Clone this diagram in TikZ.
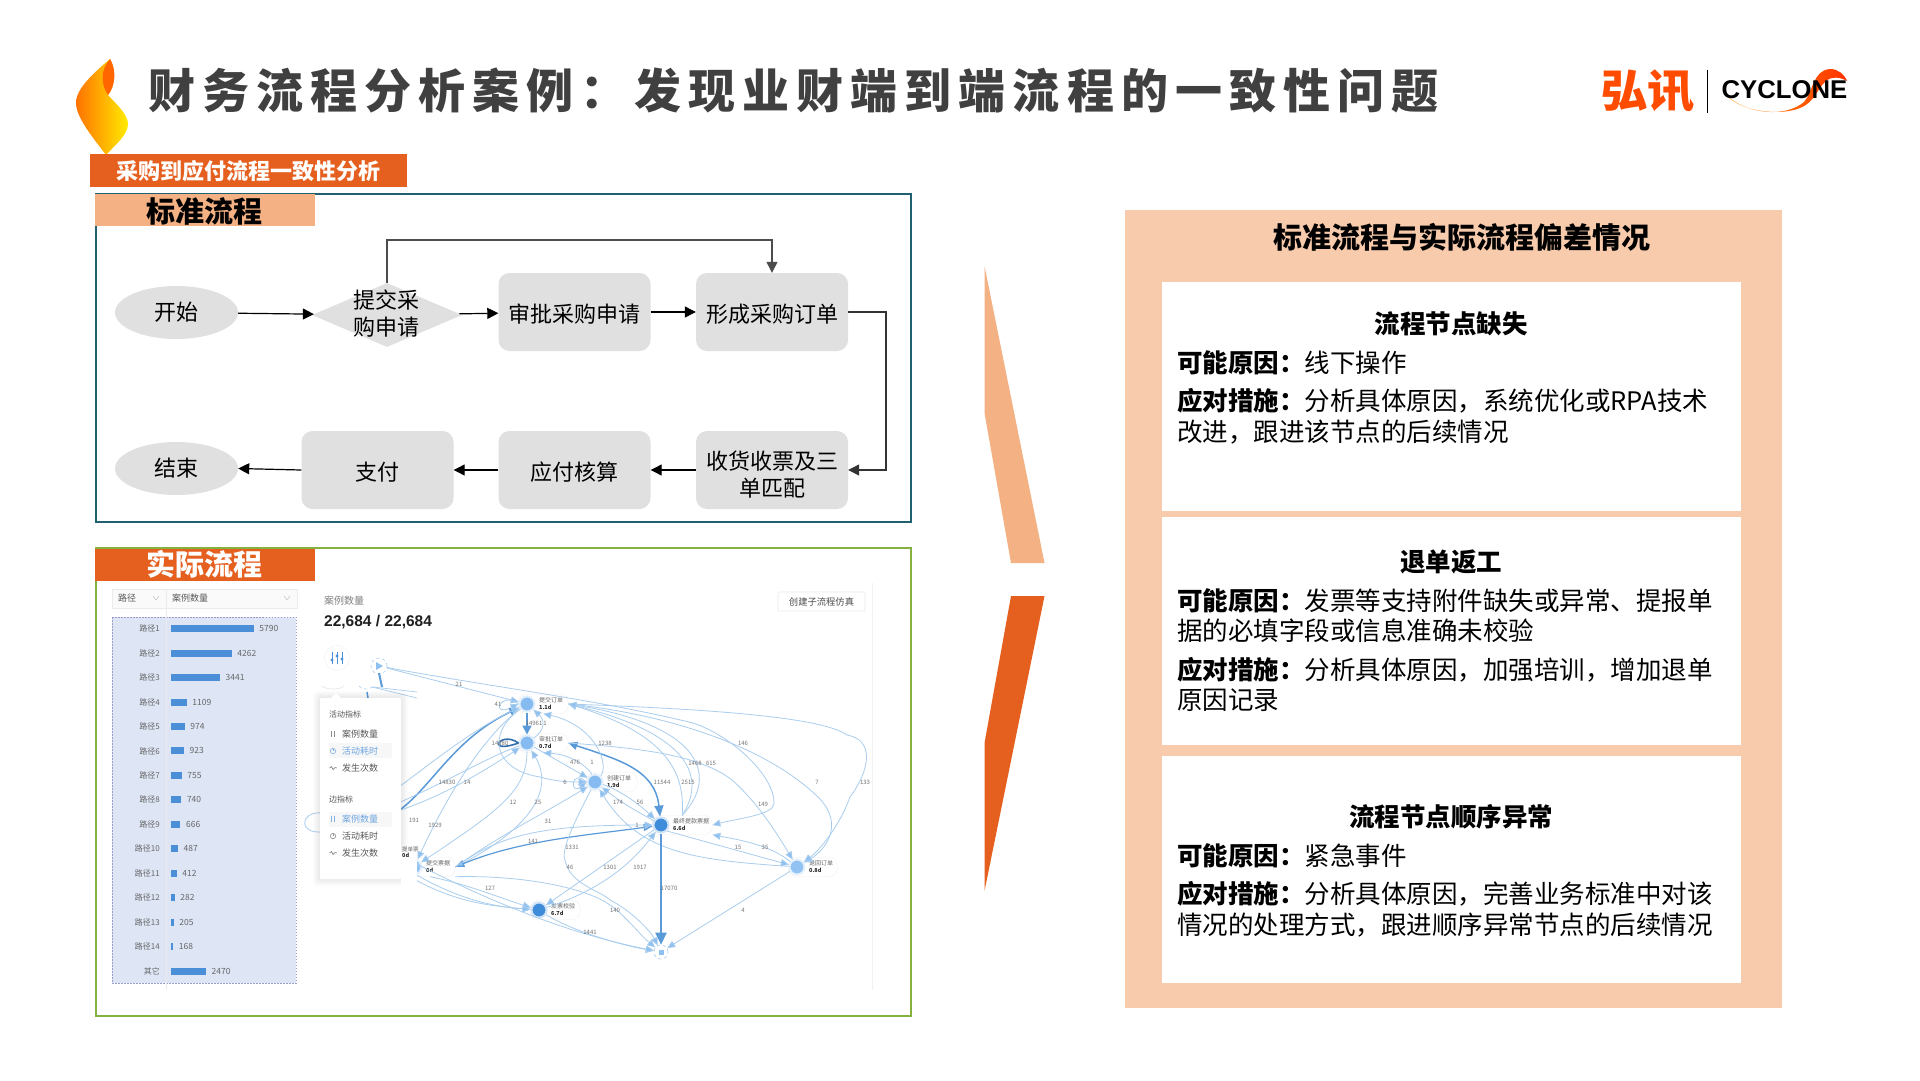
\documentclass[tikz,border=0pt]{standalone}
\usepackage{fontspec}
\setmainfont{Noto Sans CJK SC}
\newfontfamily\titlefont[LetterSpace=15]{Noto Sans CJK SC}
\newfontfamily\logofont{Liberation Sans}
\usetikzlibrary{arrows.meta,shapes.geometric}
\definecolor{mainOrange}{HTML}{E5601F}
\definecolor{softOrange}{HTML}{F4B183}
\definecolor{panelOrange}{HTML}{F8CBAD}
\definecolor{frameTeal}{HTML}{1F6170}
\definecolor{frameGreen}{HTML}{84B13F}
\definecolor{boxGray}{HTML}{E0E0E0}
\definecolor{bandBlue}{HTML}{DEE6F6}
\definecolor{barBlue}{HTML}{4A8FD8}
\definecolor{edgeBlue}{HTML}{A9CDEE}
\definecolor{tipBlue}{HTML}{8FC1F0}
\definecolor{midBlue}{HTML}{5A9AD8}
\definecolor{nodeLight}{HTML}{85BBF0}
\definecolor{nodeDark}{HTML}{3F8CDB}
\tikzset{
    tagbox/.style={inner sep=0pt, minimum width=220pt, minimum height=32pt, font=\fontsize{29}{32}\selectfont\bfseries},
    procbox/.style={rectangle, rounded corners=11pt, fill=boxGray, minimum width=152pt, minimum height=78pt, inner sep=0pt, align=center, font=\fontsize{22}{27}\selectfont, execute at begin node=\rule{0pt}{23pt}},
    termbox/.style={ellipse, fill=boxGray, minimum width=123pt, minimum height=53pt, inner sep=0pt, font=\fontsize{22}{27}\selectfont},
    flowline/.style={draw=black, line width=1.2pt, -{Triangle[length=11pt,width=11pt]}},
    whitebox/.style={fill=white, inner sep=0pt, minimum width=579pt},
    headtext/.style={inner sep=0pt, font=\fontsize{25.5}{30}\selectfont\bfseries},
    bodytext/.style={inner sep=0pt, anchor=west, align=left, font=\fontsize{25.5}{30.5}\selectfont},
    rowtext/.style={inner sep=0pt, text=black!60, font=\fontsize{8}{9}\selectfont},
    menutext/.style={inner sep=0pt, anchor=west, text=black!65, font=\fontsize{9}{10}\selectfont},
    gcircle/.style={circle, inner sep=0pt, minimum size=15pt, line width=2pt},
    gpill/.style={rectangle, rounded corners=8pt, draw=black!6, fill=white, inner sep=0pt, minimum height=19pt, anchor=west},
    gname/.style={inner sep=0pt, anchor=west, text=black!60, font=\fontsize{6}{7}\selectfont},
    gvalue/.style={inner sep=0pt, anchor=west, text=black!85, font=\fontsize{5.5}{6}\selectfont\bfseries},
    elabel/.style={inner sep=0pt, text=black!55, font=\fontsize{6}{7}\selectfont},
    gedge/.style={draw=edgeBlue, line width=.8pt, -{Triangle[length=8pt,width=7pt,fill=tipBlue]}},
    gheavy/.style={draw=midBlue, line width=1.5pt, -{Triangle[length=10pt,width=8pt,fill=midBlue]}},
}
\begin{document}
\begin{tikzpicture}[x=1pt, y=-1pt]
    \path[use as bounding box, fill=white] (0,0) rectangle (1920,1080);

    % Flame
    \shade[left color=orange!90!red, right color=yellow!85!orange]
        (110,59) .. controls (95,72) and (76,88) .. (76,103)
        .. controls (76,118) and (95,140) .. (106,155)
        .. controls (115,145) and (128,135) .. (128,124)
        .. controls (128,114) and (116,104) .. (108,95)
        .. controls (114,88) and (117,72) .. (110,59) -- cycle;
    \fill[orange!80!red] (110,59) .. controls (100,70) and (101,85) .. (108,95)
        .. controls (115,87) and (117,70) .. (110,59) -- cycle;

    % Title
    \node[anchor=west, inner sep=0pt, text=black!75, font=\fontsize{47}{50}\selectfont\titlefont\bfseries] (title) at (148,90) {财务流程分析案例：发现业财端到端流程的一致性问题};

    % Logo
    \node[inner sep=0pt, text=orange!60!red, xscale=1.05, font=\fontsize{45}{46}\selectfont\bfseries] (logocn) at (1647.5,91) {弘讯};
    \draw[black, line width=.8pt] (1707,70) -- (1707,113);
    \shade[left color=orange!80!yellow, right color=red!60!orange]
        (1727,96) .. controls (1748,114) and (1785,118) .. (1804,102)
        .. controls (1813,92) and (1813,70) .. (1830,69)
        .. controls (1838,69) and (1844,74) .. (1847,81)
        .. controls (1840,77) and (1832,76) .. (1826,81)
        .. controls (1816,90) and (1815,102) .. (1800,108)
        .. controls (1780,116) and (1743,112) .. (1727,96) -- cycle;
    \node[inner sep=0pt, font=\fontsize{25.7}{28}\selectfont\logofont\bfseries] (logoen) at (1784.5,90) {CYCLONE};

    % Top tag
    \node[anchor=north west, inner sep=0pt, fill=mainOrange, minimum width=317pt, minimum height=33pt] (tag) at (90,154) {};
    \node[inner sep=0pt, text=white, font=\fontsize{22}{24}\selectfont\bfseries] (tagtext) at (248,171) {采购到应付流程一致性分析};

    % Standard flow frame
    \draw[frameTeal, line width=2pt] (95.5,193.5) rectangle (911,522);
    \node[tagbox, anchor=north west, fill=softOrange] (stdtag) at (95,194) {};
    \node[inner sep=0pt, font=\fontsize{29}{32}\selectfont\bfseries] (stdtext) at (204.5,211) {标准流程};

    % Standard flow nodes
    \node[termbox] (start) at (176.5,312.5) {开始};
    \node[diamond, fill=boxGray, minimum width=150pt, minimum height=64pt, aspect=2.33, inner sep=0pt] (submit) at (387,315) {};
    \node[inner sep=0pt, align=center, font=\fontsize{22}{27}\selectfont] (submittext) at (386.5,314) {提交采\\购申请};
    \node[procbox] (approve) at (574.5,312) {审批采购申请};
    \node[procbox] (order) at (772,312) {形成采购订单};
    \node[procbox] (receipt) at (772,470) {\rule{0pt}{28pt}收货收票及三\\单匹配};
    \node[procbox] (account) at (574.5,470) {应付核算};
    \node[procbox] (pay) at (377.5,470) {支付};
    \node[termbox] (finish) at (176.5,468.5) {结束};

    % Standard flow arrows
    \draw[flowline] (start) -- (submit);
    \draw[flowline] (submit) -- (approve);
    \draw[flowline] (approve) -- (order);
    \draw[flowline, draw=black!70] (submit.north) |- (600,240) -| (order.north);
    \draw[flowline, draw=black!80] (order.east) -- (886,312) |- (receipt.east);
    \draw[flowline] (receipt) -- (account);
    \draw[flowline] (account) -- (pay);
    \draw[flowline] (pay.west) -- (finish.east);

    % Actual flow frame
    \draw[frameGreen, line width=2pt] (95.5,548) rectangle (911,1016);
    \node[tagbox, anchor=north west, fill=mainOrange] (acttag) at (95,549) {};
    \node[inner sep=0pt, text=white, font=\fontsize{29}{32}\selectfont\bfseries] (acttext) at (204.5,564) {实际流程};

    % Path table
    \fill[black!2] (112,589) rectangle (297,608);
    \draw[black!8, line width=.5pt] (112,589) rectangle (297,608);
    \fill[bandBlue] (112,617) rectangle (296,983);
    \draw[blue!30!gray!60, line width=.5pt, dash pattern=on 1.5pt off 1.5pt] (112,617) rectangle (296,983);
    \draw[black!8, line width=.5pt] (166,589) -- (166,990);
    \node[menutext] (colpath) at (118,598) {路径};
    \node[menutext] (colcase) at (172,598) {案例数量};
    \draw[black!25, line width=.5pt] (153,596) -- (156,600) -- (159,596);
    \draw[black!25, line width=.5pt] (284,596) -- (287,600) -- (290,596);

    % Path rows
    \foreach \rowlab/\barw/\val [count=\ri] in {路径1/83/5790, 路径2/61/4262, 路径3/49.3/3441, 路径4/16/1109, 路径5/14/974, 路径6/13.3/923, 路径7/11/755, 路径8/10.6/740, 路径9/9.7/666, 路径10/7.3/487, 路径11/6/412, 路径12/4/282, 路径13/3/205, 路径14/2.5/168, 其它/35.3/2470} {
        \pgfmathsetmacro\rowy{628.7+24.45*(\ri-1)}
        \fill[barBlue] (170.7,\rowy-3.5) rectangle ++(\barw,7);
        \node[rowtext, anchor=east] (rowlab\ri) at (160,\rowy) {\rowlab};
        \node[rowtext, anchor=west, font=\fontsize{8.5}{9}\selectfont] (rowval\ri) at ({170.7+\barw+5.5},\rowy) {\val};
    }

    % Case counter and button
    \node[menutext, text=black!50, font=\fontsize{10}{11}\selectfont] (casehead) at (324,601) {案例数量};
    \node[inner sep=0pt, anchor=west, text=black!88, font=\fontsize{15.5}{17}\selectfont\logofont\bfseries] (casecount) at (324,622) {22,684 / 22,684};
    \node[draw=black!8, line width=.8pt, fill=white, rounded corners=1pt, minimum width=87pt, minimum height=19pt, inner sep=0pt, text=black!70, font=\fontsize{9.3}{10}\selectfont] (simbtn) at (821.5,601.5) {创建子流程仿真};
    \draw[black!5, line width=.8pt] (872,583) -- (872,990);

    % Filter icon
    \node[circle, draw=black!6, fill=white, minimum size=25pt, inner sep=0pt] (filter) at (337,658) {};
    \foreach \ix/\iy in {-5/2, 0/-2, 5/1} {
        \draw[barBlue, line width=.9pt] (337+\ix,652) -- (337+\ix,664);
        \fill[barBlue] (337+\ix,658+\iy) circle (1.6);
    }

    % Graph nodes
    \node[circle, draw=edgeBlue, dashed, fill=white, line width=.6pt, minimum size=16pt, inner sep=0pt] (gStart) at (379,666) {};
    \fill[tipBlue] (376,662) -- (376,670) -- (383,666) -- cycle;
    \node[circle, draw=edgeBlue, dashed, fill=white, line width=.6pt, minimum size=14pt, inner sep=0pt] (gEnd) at (661,952) {};
    \fill[tipBlue] (658.5,949.5) rectangle (663.5,954.5);
    \node[circle, inner sep=0pt, minimum size=6pt] (gHide) at (345,825) {};
    \foreach \n/\x/\y/\w/\col/\nm/\vl in {
        Sub/527/704/50/nodeLight/提交订单/1.1d,
        App/527/743/50/nodeLight/审批订单/0.7d,
        Cre/595/782/51/nodeLight/创建订单/1.9d,
        Fin/661/825/60/nodeDark/最终提款票据/6.6d,
        Ret/797/867/49/nodeLight!90!white/退回订单/0.8d,
        Inv/539/910/50/nodeDark/发票校验/6.7d,
        Bil/414/867/50/nodeLight!85!white/提交票据/0d} {
        \node[gpill, minimum width=\w] (p\n) at ({\x-9},\y) {};
        \node[gcircle, fill=\col, draw=\col!25] (g\n) at (\x,\y) {};
        \node[gname] (t\n) at ({\x+12},{\y-3.5}) {\nm};
        \node[gvalue] (v\n) at ({\x+12},{\y+3.5}) {\vl};
    }

    % Graph edges, long ones
    \draw[gedge] (gStart) -- (gSub);
    \draw[gedge] (gStart) .. controls (480,685) and (600,700) .. (693,723) .. controls (730,735) and (775,775) .. (774,804) .. controls (772,815) and (740,818) .. (pFin.east);
    \draw[gedge] (pSub.east) .. controls (650,712) and (760,740) .. (819,798) .. controls (845,825) and (825,850) .. (gRet);
    \draw[gedge] (pSub.east) .. controls (680,708) and (820,715) .. (847,735) .. controls (875,740) and (870,770) .. (850,797) .. controls (840,825) and (820,850) .. (gRet);
    \draw[gedge] (pFin.north) .. controls (685,775) and (670,735) .. (pSub.east);
    \draw[gedge] (pFin.north) .. controls (705,780) and (695,735) .. (pSub.east);
    \draw[gedge] (pFin.north) .. controls (720,775) and (700,725) .. (pSub.east);
    \draw[gheavy, {Triangle[length=9pt,width=8pt,fill=midBlue]}-{Triangle[length=11pt,width=9pt,fill=midBlue]}] (pApp.east) .. controls (620,760) and (655,770) .. (gFin);
    \draw[gedge] (pApp.east) .. controls (640,748) and (700,755) .. (732,780) .. controls (755,800) and (775,830) .. (gRet);

    % Graph edges, short ones
    \draw[midBlue, line width=2pt, -{Triangle[length=9pt,width=9pt,fill=midBlue]}] (gSub) -- (gApp);
    \draw[gedge] (gApp) .. controls (545,730) and (545,720) .. (gSub);
    \draw[draw=nodeDark!80!black, line width=1.6pt] (gApp.west) .. controls (500,730) and (485,755) .. (gApp.west);
    \draw[gedge] (gSub.west) .. controls (500,690) and (490,718) .. (gSub.west);
    \draw[gedge] (gCre.west) .. controls (570,768) and (570,796) .. (gCre.west);
    \draw[gedge] (gApp) -- (gCre);
    \draw[gedge] (gCre) .. controls (610,765) and (595,725) .. (pSub.south);
    \draw[gedge] (gCre) .. controls (590,770) and (575,755) .. (pApp.south);
    \draw[gedge] (gSub) .. controls (485,735) and (495,770) .. (540,777) .. controls (555,781) and (565,782) .. (gCre.west);
    \draw[gedge] (gApp) .. controls (527,790) and (500,810) .. (gBil);
    \draw[gedge] (pBil.east) .. controls (530,830) and (555,790) .. (gApp);
    \draw[gedge] (pBil.east) .. controls (500,835) and (550,810) .. (gCre);
    \draw[gheavy, line width=1.2pt, {Triangle[length=9pt,width=7pt,fill=tipBlue]}-{Triangle[length=9pt,width=7pt,fill=tipBlue]}] (pBil.east) .. controls (520,840) and (590,835) .. (gFin);
    \draw[gedge] (pBil.east) .. controls (500,835) and (540,825) .. (gFin);
    \draw[gedge] (gFin) .. controls (635,810) and (625,805) .. (gCre);
    \draw[gedge] (gCre) .. controls (620,790) and (640,805) .. (gFin);
    \draw[gedge] (gRet) .. controls (700,860) and (640,855) .. (gCre);
    \draw[gedge] (gFin.south east) -- (gRet);
    \draw[gedge] (gRet) .. controls (770,845) and (740,840) .. (pFin.south east);
    \draw[gedge] (gRet) -- (gEnd);
    \draw[midBlue, line width=2.4pt, -{Triangle[length=12pt,width=11pt,fill=midBlue]}] (gFin) -- (gEnd);
    \draw[gedge] (gFin) -- (gInv);
    \draw[gedge] (gInv) .. controls (600,890) and (630,865) .. (gFin);
    \draw[gedge] (gCre) .. controls (578,815) and (560,850) .. (565,860) .. controls (570,885) and (600,890) .. (610,900) .. controls (630,910) and (650,930) .. (gEnd);
    \draw[gedge] (pBil.south east) .. controls (530,875) and (590,890) .. (610,905) .. controls (625,915) and (640,935) .. (gEnd);
    \draw[gedge] (pBil.south) .. controls (470,885) and (500,898) .. (gInv);
    \draw[gedge] (gInv) .. controls (570,930) and (620,945) .. (gEnd);

    % Edges from the node under the menu
    \draw[gedge] (gHide) .. controls (420,900) and (480,905) .. (gInv);
    \draw[gedge] (gHide) .. controls (420,885) and (470,905) .. (gInv);
    \draw[gedge] (gHide) .. controls (450,885) and (550,930) .. (gEnd);
    \draw[gheavy] (gHide) .. controls (420,830) and (430,750) .. (gSub);
    \draw[gedge] (gHide) .. controls (400,790) and (460,735) .. (gSub);
    \draw[gedge] (gApp) .. controls (480,760) and (435,790) .. (gHide);
    \draw[gedge] (gHide) .. controls (420,810) and (470,780) .. (gApp);
    \draw[gedge] (gSub) .. controls (485,735) and (450,790) .. (gBil);
    \draw[edgeBlue, line width=.8pt] (gHide) .. controls (300,790) and (285,850) .. (gHide);
    \draw[midBlue, line width=2pt] (379,673) -- (382,687);
    \draw[midBlue, line width=1.5pt] (367,692) -- (368,698);
    \draw[edgeBlue, line width=.7pt] (373,687) -- (417,692);
    \draw[edgeBlue, line width=.7pt] (372,687) -- (417,698);
    \draw[edgeBlue, dashed, line width=.6pt] (359,686) .. controls (361,690) and (371,690) .. (373,686);
    \draw[black!10, line width=.6pt] (322,686) .. controls (326,690) and (340,690) .. (344,686);

    % Edge numbers
    \foreach \x/\y/\t [count=\li] in {459/684/21, 498/704/41, 534/723/14961, 545/723/1, 500/743/14380, 565/782/6, 575/762/476, 592/762/1, 605/743/1238, 743/743/146, 695/763/1468, 711/763/615, 662/782/11544, 688/782/2515, 817/782/7, 865/782/133, 763/804/149, 513/802/12, 538/802/25, 548/821/31, 447/782/14830, 467/782/14, 414/820/191, 435/825/1929, 618/802/174, 640/802/56, 637/825/1, 533/841/141, 572/847/1331, 570/867/46, 610/867/1301, 640/867/1917, 738/847/15, 765/847/35, 743/910/4, 669/888/17070, 615/910/140, 490/888/127, 590/932/1441} {
        \node[elabel] (lab\li) at (\x,\y) {\t};
    }

    % Menu
    \foreach \s in {1,...,7} {
        \fill[black, opacity=.012, rounded corners=4pt] (320-\s,698-\s) rectangle (401+\s,879+\s);
    }
    \fill[white] (401,852) rectangle (417,885);
    \fill[white, rounded corners=1pt] (320,698) rectangle (401,879);
    \fill[white] (331,698) -- (336,693) -- (341,698) -- cycle;
    \fill[black!3] (329,743) rectangle (392,758);
    \fill[black!3] (329,812) rectangle (392,827);
    \node[menutext, font=\fontsize{8}{9}\selectfont] (menuA) at (329,714) {活动指标};
    \node[menutext] (menuA1) at (342,734) {案例数量};
    \node[menutext, text=barBlue!80] (menuA2) at (342,751) {活动耗时};
    \node[menutext] (menuA3) at (342,768) {发生次数};
    \node[menutext, font=\fontsize{8}{9}\selectfont] (menuB) at (329,799) {边指标};
    \node[menutext, text=barBlue!80] (menuB1) at (342,819) {案例数量};
    \node[menutext] (menuB2) at (342,836) {活动耗时};
    \node[menutext] (menuB3) at (342,853) {发生次数};
    \node[gname, font=\fontsize{5.5}{6}\selectfont] (hidename) at (402,849) {提单票};
    \node[gvalue] (hidevalue) at (402,855) {0d};
    \foreach \iy/\col in {734/black!45, 819/barBlue!70} {
        \draw[\col, line width=.8pt] (331.5,\iy-3) -- (331.5,\iy+3);
        \draw[\col, line width=.8pt] (334.5,\iy-3) -- (334.5,\iy+3);
    }
    \foreach \iy/\col in {751/barBlue!70, 836/black!45} {
        \draw[\col, line width=.6pt] (333,\iy) circle (2.7);
        \draw[\col, line width=.6pt] (333,\iy) -- (333,\iy-2);
    }
    \foreach \iy in {768,853} {
        \draw[black!45, line width=.7pt] (329.5,\iy) -- (331.5,\iy-1.5) -- (333,\iy+1.5) -- (335,\iy-.5) -- (337,\iy);
    }

    % Middle wedges
    \fill[softOrange] (984.5,266) -- (1044.5,563) -- (1011,563) -- (984.5,413) -- cycle;
    \fill[mainOrange] (1011,596) -- (1044.5,596) -- (984.5,891) -- (984.5,743) -- cycle;

    % Right panel
    \fill[panelOrange] (1125,210) rectangle (1782,1008);
    \node[inner sep=0pt, font=\fontsize{29}{32}\selectfont\bfseries] (paneltitle) at (1462,237) {标准流程与实际流程偏差情况};
    \node[whitebox, minimum height=229.5pt] (boxA) at (1451.5,396.25) {};
    \node[whitebox, minimum height=228pt] (boxB) at (1451.5,630.5) {};
    \node[whitebox, minimum height=227pt] (boxC) at (1451.5,869.5) {};

    % First case
    \node[headtext] (headA) at (1451,324) {流程节点缺失};
    \node[bodytext] (whyA) at (1177,363) {\textbf{可能原因：}线下操作};
    \node[bodytext] (howA) at (1177,416.5) {\textbf{应对措施：}分析具体原因，系统优化或RPA技术\\改进，跟进该节点的后续情况};

    % Second case
    \node[headtext] (headB) at (1451,562) {退单返工};
    \node[bodytext] (whyB) at (1177,615.5) {\textbf{可能原因：}发票等支持附件缺失或异常、提报单\\据的必填字段或信息准确未校验};
    \node[bodytext] (howB) at (1177,684.5) {\textbf{应对措施：}分析具体原因，加强培训，增加退单\\原因记录};

    % Third case
    \node[headtext] (headC) at (1451,817) {流程节点顺序异常};
    \node[bodytext] (whyC) at (1177,856) {\textbf{可能原因：}紧急事件};
    \node[bodytext] (howC) at (1177,909.5) {\textbf{应对措施：}分析具体原因，完善业务标准中对该\\情况的处理方式，跟进顺序异常节点的后续情况};
\end{tikzpicture}
\end{document}
